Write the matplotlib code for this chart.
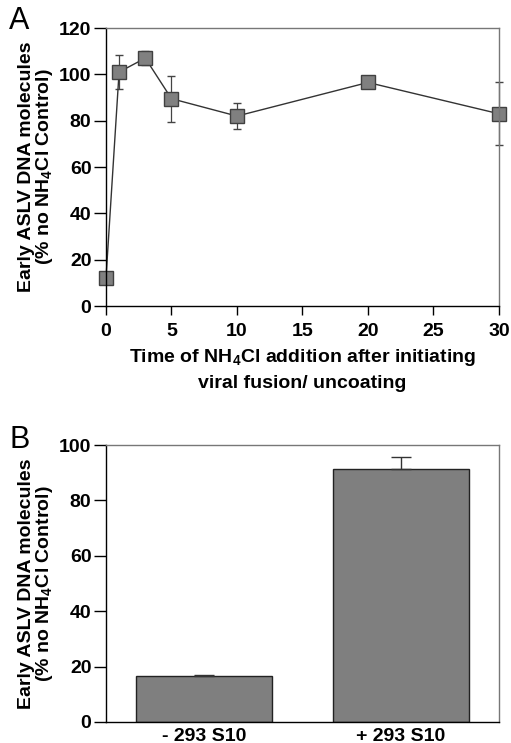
import numpy as np
import matplotlib
matplotlib.use('Agg')
import matplotlib.pyplot as plt

plt.rcParams['font.family'] = ['Liberation Sans', 'DejaVu Sans']
plt.rcParams['font.weight'] = 'bold'
plt.rcParams['mathtext.fontset'] = 'custom'
plt.rcParams['mathtext.rm'] = 'Liberation Sans:bold'
plt.rcParams['mathtext.bf'] = 'Liberation Sans:bold'
plt.rcParams['mathtext.default'] = 'bf'

# panel A data
time_min = [0, 1, 3, 5, 10, 20, 30]
pct_a = [12, 101, 107, 89.5, 82, 96.5, 83]
err_a = [1, 7.5, 3, 10, 5.5, 2.5, 13.5]

# panel B data
conditions = ['- 293 S10', '+ 293 S10']
pct_b = [16.5, 91.3]
err_b = [0.5, 4.5]

ylab = 'Early ASLV DNA molecules\n(% no NH$_4$Cl Control)'

fig = plt.figure(figsize=(5.11, 7.43), dpi=100)

ax1 = fig.add_axes([0.2074, 0.588, 0.7691, 0.3743])
line, caps, bars = ax1.errorbar(time_min, pct_a, yerr=err_a, color='#333333', lw=1.0,
                                ecolor='#444444', elinewidth=0.9, capsize=3, capthick=0.9,
                                marker='s', ms=9.5, mfc='#808080', mec='#404040', mew=1.0)
line.set_clip_on(False)
for c in caps:
    c.set_clip_on(False)
for b in bars:
    b.set_clip_on(False)
ax1.set_xlim(0, 30)
ax1.set_ylim(0, 120)
ax1.set_xticks(range(0, 31, 5))
ax1.set_yticks(range(0, 121, 20))
ax1.set_xlabel('Time of NH$_4$Cl addition after initiating\nviral fusion/ uncoating',
               fontsize=14, fontweight='bold', labelpad=5, linespacing=1.5)
ax1.set_ylabel(ylab, fontsize=14, fontweight='bold', labelpad=3, linespacing=0.9)
fig.text(0.018, 0.992, 'A', fontsize=22, fontweight='normal', va='top', ha='left')

ax2 = fig.add_axes([0.2074, 0.0283, 0.7691, 0.3727])
xpos = np.arange(len(conditions))
ax2.bar(xpos, pct_b, width=0.69, color='#7f7f7f', edgecolor='#222222', lw=1.0)
ax2.errorbar(xpos, pct_b, yerr=[np.zeros(len(err_b)), err_b], fmt='none',
             ecolor='#333333', elinewidth=1.0, capsize=7, capthick=1.0)
ax2.set_xlim(-0.5, 1.5)
ax2.set_ylim(0, 100)
ax2.set_xticks(xpos)
ax2.set_xticklabels(conditions)
ax2.set_yticks(range(0, 101, 20))
ax2.set_ylabel(ylab, fontsize=14, fontweight='bold', labelpad=3, linespacing=0.9)
fig.text(0.018, 0.428, 'B', fontsize=22, fontweight='normal', va='top', ha='left')

for ax in (ax1, ax2):
    ax.tick_params(direction='out', length=8.5, width=1.0, labelsize=14, pad=2,
                   top=False, right=False)
    for lab in ax.get_xticklabels() + ax.get_yticklabels():
        lab.set_fontweight('bold')
    ax.spines['left'].set_linewidth(1.0)
    ax.spines['bottom'].set_linewidth(1.0)
    ax.spines['top'].set_color('#777777')
    ax.spines['right'].set_color('#777777')
    ax.spines['top'].set_linewidth(1.0)
    ax.spines['right'].set_linewidth(1.0)
ax1.tick_params(axis='x', length=6.5, pad=6)
ax2.tick_params(axis='x', length=0, pad=4)

fig.savefig('out.png', dpi=100)
